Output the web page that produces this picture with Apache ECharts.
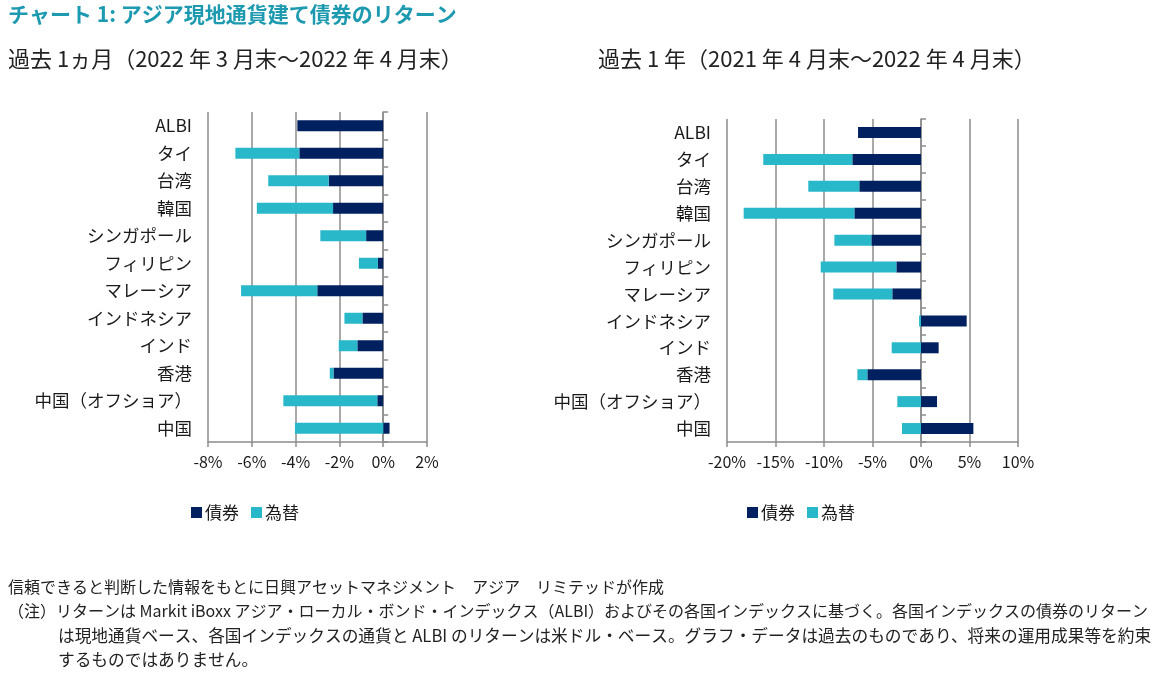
<!DOCTYPE html>
<html><head><meta charset="utf-8">
<script src="https://cdn.jsdelivr.net/npm/echarts@6/dist/echarts.min.js"></script>
<style>html,body{margin:0;padding:0;background:#fff}#c{width:1162px;height:684px}</style>
</head><body><div id="c"></div>
<script>
const categories = ['ALBI','タイ','台湾','韓国','シンガポール','フィリピン','マレーシア','インドネシア','インド','香港','中国（オフショア）','中国'];
const bond1m = [-3.92,-3.83,-2.49,-2.29,-0.78,-0.24,-3.01,-0.95,-1.18,-2.27,-0.27,0.29];
const fx1m   = [0,-2.92,-2.76,-3.48,-2.09,-0.87,-3.48,-0.82,-0.85,-0.17,-4.29,-4.03];
const bond1y = [-6.49,-7.08,-6.36,-6.87,-5.12,-2.54,-2.96,4.71,1.82,-5.53,1.65,5.40];
const fx1y   = [0,-9.18,-5.26,-11.41,-3.81,-7.80,-6.08,-0.20,-3.02,-1.03,-2.44,-1.96];
const seriesNames = ['債券','為替'];
const xTicks1m = {min:-8,max:2,interval:2};
const xTicks1y = {min:-20,max:10,interval:5};
const titleText = 'チャート 1: アジア現地通貨建て債券のリターン';
const sub1 = '過去 1ヵ月（2022 年 3 月末～2022 年 4 月末）';
const sub2 = '過去 1 年（2021 年 4 月末～2022 年 4 月末）';
const notes = [
 '信頼できると判断した情報をもとに日興アセットマネジメント　アジア　リミテッドが作成',
 '（注）リターンは Markit iBoxx アジア・ローカル・ボンド・インデックス（ALBI）およびその各国インデックスに基づく。各国インデックスの債券のリターン',
 'は現地通貨ベース、各国インデックスの通貨と ALBI のリターンは米ドル・ベース。グラフ・データは過去のものであり、将来の運用成果等を約束',
 'するものではありません。'
];

const FONT = "'Noto Sans CJK JP', 'Noto Sans', sans-serif";
const NAVY = '#002060', TEAL = '#29B8CA', GRID = '#8c8c8c', TXT = '#1a1a1a';

function xAxis(idx, t){
  return {type:'value', gridIndex:idx, min:t.min, max:t.max, interval:t.interval,
    axisLabel:{formatter:'{value}%', color:TXT, fontSize:16, fontFamily:FONT, margin:12},
    axisLine:{show:true, onZero:false, lineStyle:{color:GRID, width:1.5}},
    axisTick:{show:true, length:5, lineStyle:{color:GRID, width:1.5}},
    splitLine:{show:true, lineStyle:{color:GRID, width:1.5}}};
}
function yLabels(idx){
  return {type:'category', gridIndex:idx, data:categories, inverse:true,
    axisLine:{show:false, onZero:false}, axisTick:{show:false},
    axisLabel:{color:TXT, fontSize:17.5, fontFamily:FONT, margin:16}};
}
function yZero(idx){
  return {type:'category', gridIndex:idx, data:categories, inverse:true,
    axisLine:{show:true, onZero:true, lineStyle:{color:GRID, width:1.5}},
    axisTick:{show:true, length:5, lineStyle:{color:GRID, width:1.5}},
    axisLabel:{show:false}};
}
function bar(name, data, xi, yi, color){
  return {type:'bar', name, data, xAxisIndex:xi, yAxisIndex:yi, stack:'s'+xi,
    barWidth:11, itemStyle:{color}, emphasis:{disabled:true}};
}
function legend(left){
  return {data:seriesNames, left, top:499, icon:'rect', itemWidth:11, itemHeight:11, itemGap:12,
    textStyle:{color:TXT, fontSize:17, fontFamily:FONT, padding:[0,0,0,-2]}, selectedMode:false};
}
function txt(x, y, text, size, color, weight){
  return {type:'text', left:x, top:y, style:{text, fill:color, font:(weight||'normal')+' '+size+'px '+FONT}};
}

const chart = echarts.init(document.getElementById('c'), null, {renderer:'canvas'});
chart.setOption({
  animation:false,
  backgroundColor:'#fff',
  grid:[{left:208, right:735, top:112, bottom:242}, {left:727, right:144, top:119, bottom:242}],
  xAxis:[xAxis(0, xTicks1m), xAxis(1, xTicks1y)],
  yAxis:[yLabels(0), yZero(0), yLabels(1), yZero(1)],
  series:[
    bar(seriesNames[0], bond1m, 0, 1, NAVY), bar(seriesNames[1], fx1m, 0, 1, TEAL),
    bar(seriesNames[0], bond1y, 1, 3, NAVY), bar(seriesNames[1], fx1y, 1, 3, TEAL)
  ],
  legend:[legend(186), legend(742)],
  graphic:[
    txt(8, 4, titleText, 21, '#1E9AB0', 'bold'),
    txt(8, 48, sub1, 22, '#222'),
    txt(598, 48, sub2, 22, '#222'),
    txt(8, 579, notes[0], 16, '#222'),
    txt(8, 603, notes[1], 16, '#222'),
    txt(58, 627, notes[2], 16.7, '#222'),
    txt(58, 651, notes[3], 16.7, '#222')
  ]
});
</script></body></html>
